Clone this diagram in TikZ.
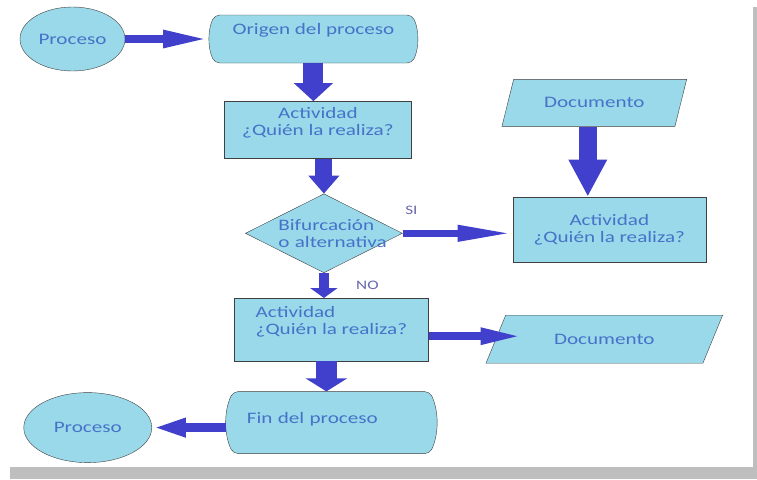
\documentclass[tikz,border=0pt]{standalone}
\usepackage{fontspec}
\setmainfont{Carlito}[FakeStretch=1.32]
\usetikzlibrary{arrows.meta, positioning, shapes.geometric, shapes.misc}

\definecolor{cajafondo}{RGB}{153,217,234}
\definecolor{textoazul}{RGB}{70,115,200}
\definecolor{flechaazul}{RGB}{64,64,204}
\definecolor{sombragris}{RGB}{190,190,190}
\definecolor{rotuloazul}{RGB}{105,105,175}

\begin{document}
\begin{tikzpicture}[
    x=1pt, y=-1pt,
    font=\fontsize{16}{17}\selectfont,
    caja/.style={
        draw=black!75,
        fill=cajafondo,
        text=textoazul,
        align=center,
        inner sep=2pt
    },
    actividad/.style={caja, rectangle},
    terminal/.style={caja, rounded rectangle, rounded rectangle arc length=50, rounded corners=5pt},
    proceso/.style={caja, ellipse, inner sep=0pt},
    decision/.style={caja, diamond, aspect=2, inner sep=0pt, align=left},
    documento/.style={caja, trapezium, trapezium stretches=true, inner sep=0pt},
    rotulo/.style={text=rotuloazul, font=\fontsize{13}{13}\selectfont},
    flecha/.style n args={3}{
        draw=flechaazul,
        line width=#1,
        -{Triangle[length=#2, width=#3]}
    }
]
\useasboundingbox (0,0) rectangle (757,479);
\fill[white] (0,0) rectangle (757,479);
\fill[sombragris] (10,467) rectangle (757,479);
\fill[sombragris] (753,7) rectangle (757,479);

% columna principal
\node[proceso, minimum width=105pt, minimum height=64pt] (proc1) at (72.5,39) {Proceso};
\node[terminal, minimum width=212pt, minimum height=48pt, text depth=20pt,
      right=84pt of proc1] (origen) {Origen del proceso};
\node[actividad, minimum width=187pt, minimum height=57pt, text depth=17.5pt,
      below=38pt of origen, xshift=4.5pt] (act1) {Actividad\\¿Quién la realiza?};
\node[decision, minimum width=157pt, minimum height=79pt, text width=91pt,
      below=35pt of act1, xshift=6pt] (bif) {Bifurcación\\\mbox{o alternativa}};
\node[actividad, minimum width=194pt, minimum height=63pt, text depth=19.5pt, align=left,
      below=25pt of bif, xshift=7.5pt] (act3) {Actividad\\¿Quién la realiza?};
\node[terminal, minimum width=209pt, minimum height=62pt, text depth=9.5pt,
      text width=169pt, align=left, inner xsep=20pt,
      below=30pt of act3] (fin) {Fin del proceso};
\node[proceso, minimum width=128pt, minimum height=70pt,
      left=74pt of fin, yshift=-5pt] (proc2) {Proceso};

% rama derecha
\node[actividad, minimum width=193pt, minimum height=65pt,
      right=110pt of bif, yshift=4pt] (act2) {Actividad\\¿Quién la realiza?};
\node[documento, trapezium left angle=55, trapezium right angle=125,
      minimum width=185pt, minimum height=47pt,
      above=70pt of act2, xshift=-15pt] (doc1) {Documento};
\node[documento, trapezium left angle=46, trapezium right angle=134,
      minimum width=237pt, minimum height=48pt,
      right=67pt of act3, yshift=-9.5pt] (doc2) {Documento};

% flechas
\draw[flecha={8pt}{46pt}{16pt}] (proc1.east) -- (origen.west);
\draw[flecha={20pt}{18pt}{38pt}] (origen.south) -- (origen.south |- act1.north);
\draw[flecha={17pt}{18pt}{30pt}] (act1.south -| bif.north) -- (bif.north);
\draw[flecha={18pt}{37pt}{36pt}] ([xshift=-6.5pt]doc1.south) -- ([xshift=-6.5pt]doc1.south |- act2.north);
\draw[flecha={7pt}{55pt}{15pt}] (bif.east) -- node[rotulo, pos=0.08, above=12pt] {SI} (bif.east -| act2.west);
\draw[flecha={10pt}{10pt}{27pt}] (bif.south) -- node[rotulo, right=24pt] {NO} (bif.south |- act3.north);
\draw[flecha={8pt}{43pt}{15pt}, shorten >=-28pt] ([yshift=-6.5pt]act3.east) -- ([yshift=-6.5pt]act3.east -| doc2.left side);
\draw[flecha={21pt}{13pt}{41pt}] ([xshift=-5pt]act3.south) -- ([xshift=-5pt]act3.south |- fin.north);
\draw[flecha={9pt}{34pt}{17pt}] (fin.west |- proc2.east) -- (proc2.east);
\end{tikzpicture}
\end{document}
